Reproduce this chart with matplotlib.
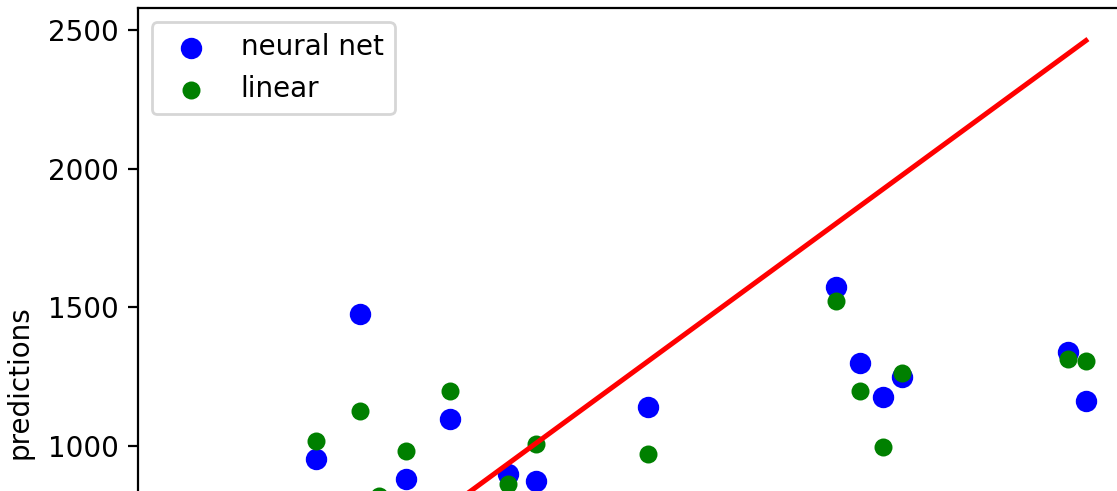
import numpy as np
import matplotlib
matplotlib.use("Agg")
import matplotlib.pyplot as plt
from matplotlib.ticker import MultipleLocator

actual = [429, 545, 595, 666, 783, 935, 1009, 1305, 1801, 1865, 1927, 1976, 2414, 2462]
nn_pred = [953, 1477, 780, 881, 1097, 899, 875, 1142, 1574, 1300, 1178, 1248, 1338, 1163]
lin_pred = [1019, 1127, 820, 983, 1199, 862, 1007, 970, 1523, 1199, 997, 1264, 1314, 1307]

dpi = 200
fig = plt.figure(figsize=(1117 / dpi, 491 / dpi), dpi=dpi)
# axes runs past the bottom and right edge of the picture (cropped view)
ax = fig.add_axes([138 / 1117, (491 - 529.2) / 491, 993 / 1117, 520.8 / 491])

ax.scatter(actual, nn_pred, color="blue", s=45, label="neural net")
ax.scatter(actual, lin_pred, color="green", s=30, label="linear")
ax.plot(actual, actual, color="red", linewidth=1.8)

ax.set_xlim(-41, 2581)
ax.set_ylim(700, 2578)
ax.yaxis.set_major_locator(MultipleLocator(500))
ax.set_ylabel("predictions")
# label sits where it was centred on the full (uncropped) axis
ax.yaxis.set_label_coords(-0.105, 0.283)
# x tick labels fall outside the cropped view
ax.tick_params(axis="x", labelbottom=False)
ax.legend(loc="upper left")

fig.savefig("out.png", dpi=dpi)
